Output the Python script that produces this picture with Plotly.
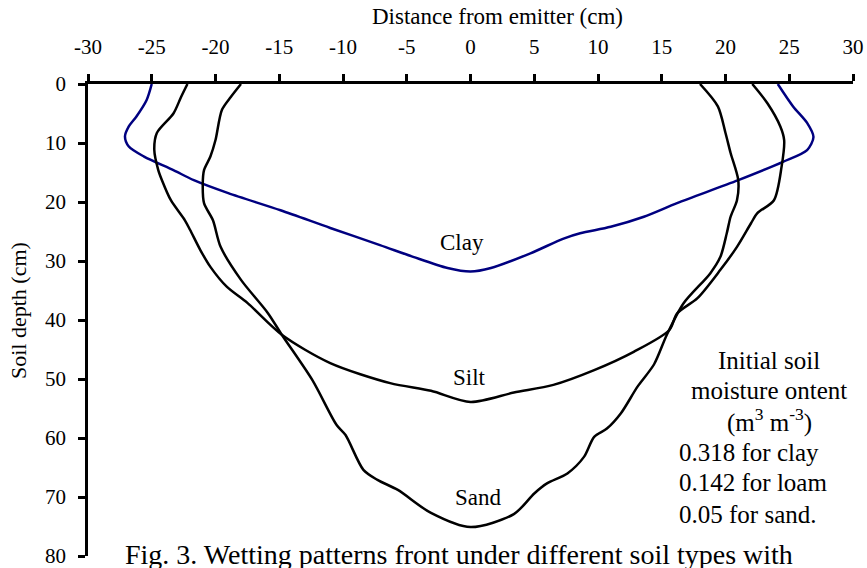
import plotly.graph_objects as go

# ---- data (distance from emitter in cm, soil depth in cm) ----
clay_x = [-25.0, -25.4, -26.2, -26.8, -27.1, -26.8, -25.6, -23.3, -21.7, -19.0, -14.9, -11.0,
          -7.1, -4.5, -1.8, 0.0, 1.6, 4.7, 7.3, 8.6, 11.0, 13.6, 16.2, 21.0, 24.5, 26.4,
          26.9, 26.4, 25.3, 24.1]
clay_depth = [0.0, 2.7, 5.5, 7.2, 8.9, 10.6, 12.3, 14.6, 16.3, 18.5, 21.4, 24.4,
              27.3, 29.3, 31.2, 31.8, 31.2, 28.7, 26.2, 25.3, 24.2, 22.5, 20.2, 16.3, 13.2, 11.2,
              9.0, 6.6, 3.8, 0.0]

silt_x = [-22.2, -22.7, -23.3, -24.6, -24.8, -24.5, -24.2, -23.5, -22.4, -22.0, -21.2, -20.4,
          -19.1, -17.5, -14.8, -11.0, -6.3, -3.1, 0.0, 3.4, 6.5, 9.7, 12.8, 15.6,
          16.2, 17.8, 19.6, 20.9, 22.0, 22.5, 23.8, 24.4, 24.6, 24.3, 23.3, 22.1]
silt_depth = [0.0, 2.2, 5.0, 8.3, 11.2, 14.5, 16.3, 19.7, 23.1, 24.7, 28.1, 31.0,
              34.4, 37.1, 42.5, 47.3, 50.7, 52.0, 53.9, 52.3, 51.0, 48.5, 45.4, 41.7,
              38.9, 36.3, 31.5, 27.6, 23.6, 21.9, 19.7, 14.0, 9.5, 7.2, 3.3, 0.0]

sand_x = [-18.0, -18.8, -19.5, -20.0, -20.4, -20.9, -21.0, -20.9, -20.2, -19.6, -18.0, -15.9,
          -14.8, -12.4, -10.5, -9.8, -8.4, -7.3, -5.7, -3.1, 0.0, 3.4, 5.0, 6.0, 7.6,
          8.9, 9.7, 10.7, 11.8, 13.1, 14.4, 15.4, 16.7, 18.8, 19.6, 20.1, 20.4, 20.9, 21.0,
          20.4, 20.0, 19.4, 18.0]
sand_depth = [0.0, 2.2, 4.4, 9.5, 12.3, 14.6, 17.0, 20.2, 23.1, 27.6, 33.2, 38.8,
              42.5, 50.2, 57.8, 59.5, 65.4, 67.1, 68.8, 72.7, 75.1, 72.9, 69.4, 67.7, 66.0,
              63.2, 59.8, 58.4, 55.8, 51.3, 47.5, 42.5, 37.2, 32.1, 29.3, 25.3, 22.5, 19.7, 16.3,
              11.7, 8.3, 3.8, 0.0]

x_tick_vals = [-30, -25, -20, -15, -10, -5, 0, 5, 10, 15, 20, 25, 30]
x_tick_text = ["-30", "-25", "-20", "-15", "-10", "-5", "0", "5", "10", "15", "20", "25", "30"]
y_tick_vals = [0, 10, 20, 30, 40, 50, 60, 70, 80]

FONT = "Liberation Serif, serif"


def f(size):
    return dict(family=FONT, size=size, color="black")


fig = go.Figure()
fig.add_trace(go.Scatter(x=clay_x, y=clay_depth, mode="lines", name="Clay",
                         line=dict(color="#000080", width=2.5, shape="spline", smoothing=0.8)))
fig.add_trace(go.Scatter(x=silt_x, y=silt_depth, mode="lines", name="Silt",
                         line=dict(color="#000000", width=2.5, shape="spline", smoothing=0.8)))
fig.add_trace(go.Scatter(x=sand_x, y=sand_depth, mode="lines", name="Sand",
                         line=dict(color="#000000", width=2.5, shape="spline", smoothing=0.8)))

ann = []
# curve labels
ann.append(dict(x=-0.7, y=26.9, xref="x", yref="y", text="Clay", showarrow=False, font=f(23)))
ann.append(dict(x=-0.1, y=49.8, xref="x", yref="y", text="Silt", showarrow=False, font=f(23)))
ann.append(dict(x=0.6, y=70.0, xref="x", yref="y", text="Sand", showarrow=False, font=f(23)))
# note block
for txt, yy in [("Initial soil", 46.9), ("moisture ontent", 52.0),
                ("(m<sup>3</sup> m<sup>-3</sup>)", 57.1)]:
    ann.append(dict(x=23.45, y=yy, xref="x", yref="y", text=txt, showarrow=False,
                    xanchor="center", font=f(25)))
for txt, yy in [("0.318 for clay", 62.4), ("0.142 for loam", 67.6), ("0.05 for sand.", 72.9)]:
    ann.append(dict(x=16.2, y=yy, xref="x", yref="y", text=txt, showarrow=False,
                    xanchor="left", font=f(25)))
# axis titles
ann.append(dict(x=0.535, y=1.144, xref="paper", yref="paper", text="Distance from emitter (cm)",
                showarrow=False, xanchor="center", yanchor="middle", font=f(23)))
ann.append(dict(x=-0.0915, y=0.519, xref="paper", yref="paper", text="Soil depth (cm)",
                showarrow=False, textangle=-90, xanchor="center", yanchor="middle", font=f(22)))
# caption
ann.append(dict(x=0.0458, y=0.004, xref="paper", yref="paper",
                text="Fig. 3. Wetting patterns front under different soil types with",
                showarrow=False, xanchor="left", yanchor="middle", font=f(28)))

fig.update_layout(
    width=867, height=568,
    margin=dict(l=88, r=14, t=84, b=12, autoexpand=False),
    paper_bgcolor="white", plot_bgcolor="white",
    showlegend=False,
    font=f(21),
    annotations=ann,
    xaxis=dict(side="top", range=[-30, 30], tickmode="array", tickvals=x_tick_vals,
               ticktext=x_tick_text, showgrid=False, zeroline=False, showline=True,
               linecolor="black", linewidth=2.5, ticks="outside", ticklen=7, tickwidth=2.5,
               tickcolor="black", tickfont=f(21), ticklabelstandoff=12,
               ticklabeloverflow="allow", automargin=False),
    yaxis=dict(range=[80, 0], tickmode="array", tickvals=y_tick_vals, showgrid=False,
               zeroline=False, showline=True, linecolor="black", linewidth=2.5,
               ticks="outside", ticklen=7, tickwidth=2.5, tickcolor="black",
               tickfont=f(21), ticklabelstandoff=8, ticklabeloverflow="allow",
               automargin=False),
)

fig.write_html("out.html")
